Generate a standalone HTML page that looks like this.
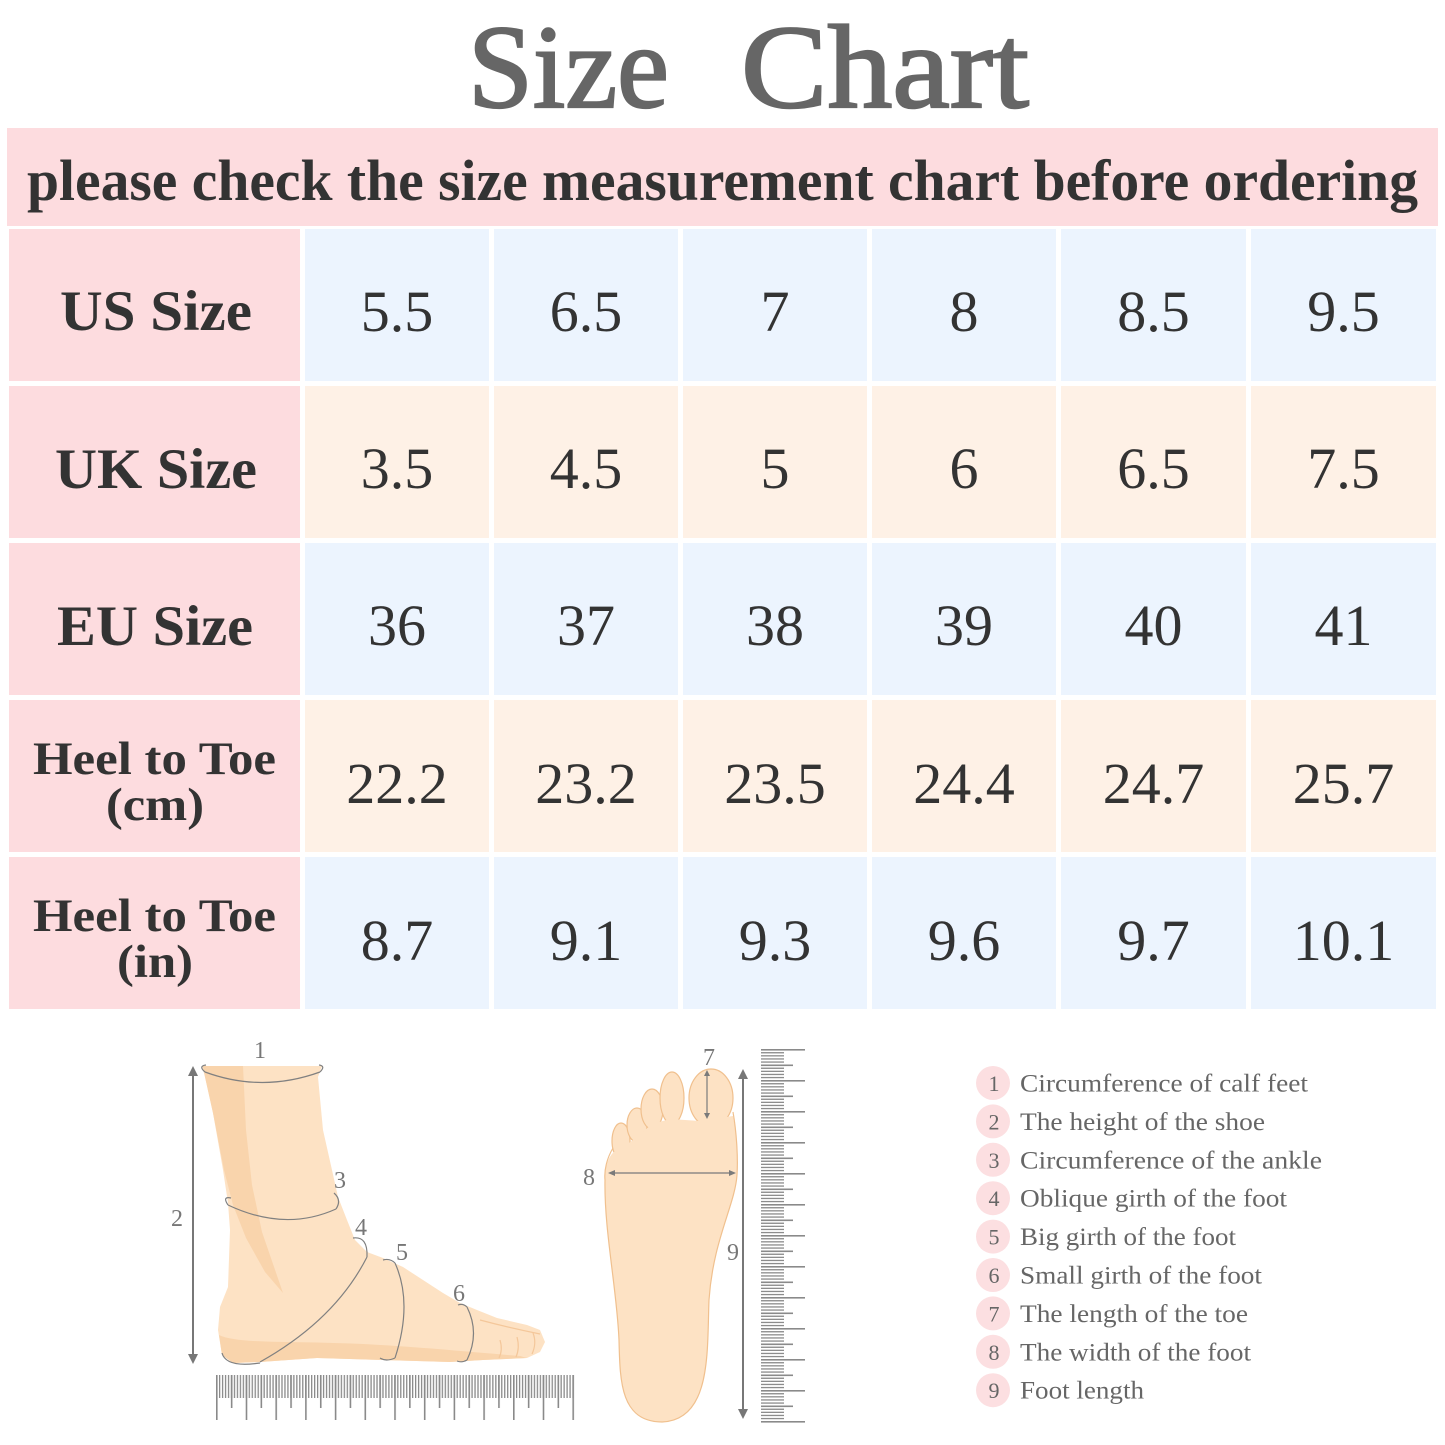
<!DOCTYPE html>
<html>
<head>
<meta charset="utf-8">
<style>
html,body{margin:0;padding:0;background:#fff;}
svg{display:block;}
</style>
</head>
<body>
<svg width="1445" height="1445" viewBox="0 0 1445 1445" xmlns="http://www.w3.org/2000/svg" font-family="'Liberation Serif', serif">
<defs>
  <pattern id="hd" x="216" y="0" width="2.97" height="10" patternUnits="userSpaceOnUse"><rect x="0" y="0" width="1.3" height="10" fill="#8a8a8a"/></pattern>
  <pattern id="hl" x="216" y="0" width="29.7" height="10" patternUnits="userSpaceOnUse"><rect x="0" y="0" width="1.6" height="10" fill="#8a8a8a"/></pattern>
  <pattern id="hm" x="230.85" y="0" width="29.7" height="10" patternUnits="userSpaceOnUse"><rect x="0" y="0" width="1.6" height="10" fill="#8a8a8a"/></pattern>
  <pattern id="vd" x="0" y="1049" width="10" height="3.1" patternUnits="userSpaceOnUse"><rect x="0" y="0" width="10" height="1.3" fill="#8a8a8a"/></pattern>
  <pattern id="vl" x="0" y="1049" width="10" height="31" patternUnits="userSpaceOnUse"><rect x="0" y="0" width="10" height="1.6" fill="#8a8a8a"/></pattern>
  <pattern id="vm" x="0" y="1064.5" width="10" height="31" patternUnits="userSpaceOnUse"><rect x="0" y="0" width="10" height="1.6" fill="#8a8a8a"/></pattern>
</defs>

<rect width="1445" height="1445" fill="#fff"/>

<!-- Title -->
<text x="468" y="107" font-size="119" fill="#666" stroke="#666" stroke-width="2.2" textLength="201" lengthAdjust="spacingAndGlyphs">Size</text>
<text x="741" y="107" font-size="119" fill="#666" stroke="#666" stroke-width="2.2" textLength="288" lengthAdjust="spacingAndGlyphs">Chart</text>

<!-- Banner -->
<rect x="7" y="128" width="1431" height="98" fill="#fddcdf"/>
<text x="27" y="200" font-size="58" font-weight="bold" fill="#333" textLength="1391" lengthAdjust="spacingAndGlyphs">please check the size measurement chart before ordering</text>

<!-- Header column -->
<g fill="#fddcdf">
  <rect x="9" y="229" width="291" height="152"/>
  <rect x="9" y="386" width="291" height="152"/>
  <rect x="9" y="543" width="291" height="152"/>
  <rect x="9" y="700" width="291" height="152"/>
  <rect x="9" y="857" width="291" height="152"/>
</g>

<g fill="#ecf4fe">
  <rect x="305" y="229" width="184" height="152"/><rect x="494" y="229" width="184" height="152"/><rect x="683" y="229" width="184" height="152"/><rect x="872" y="229" width="184" height="152"/><rect x="1061" y="229" width="185" height="152"/><rect x="1251" y="229" width="185" height="152"/>
  <rect x="305" y="543" width="184" height="152"/><rect x="494" y="543" width="184" height="152"/><rect x="683" y="543" width="184" height="152"/><rect x="872" y="543" width="184" height="152"/><rect x="1061" y="543" width="185" height="152"/><rect x="1251" y="543" width="185" height="152"/>
  <rect x="305" y="857" width="184" height="152"/><rect x="494" y="857" width="184" height="152"/><rect x="683" y="857" width="184" height="152"/><rect x="872" y="857" width="184" height="152"/><rect x="1061" y="857" width="185" height="152"/><rect x="1251" y="857" width="185" height="152"/>
</g>
<g fill="#fef1e6">
  <rect x="305" y="386" width="184" height="152"/><rect x="494" y="386" width="184" height="152"/><rect x="683" y="386" width="184" height="152"/><rect x="872" y="386" width="184" height="152"/><rect x="1061" y="386" width="185" height="152"/><rect x="1251" y="386" width="185" height="152"/>
  <rect x="305" y="700" width="184" height="152"/><rect x="494" y="700" width="184" height="152"/><rect x="683" y="700" width="184" height="152"/><rect x="872" y="700" width="184" height="152"/><rect x="1061" y="700" width="185" height="152"/><rect x="1251" y="700" width="185" height="152"/>
</g>

<!-- Header labels -->
<g fill="#333" font-weight="bold">
  <text x="60" y="330" font-size="57" textLength="192" lengthAdjust="spacingAndGlyphs">US Size</text>
  <text x="55" y="488" font-size="57" textLength="202" lengthAdjust="spacingAndGlyphs">UK Size</text>
  <text x="57" y="645" font-size="57" textLength="196" lengthAdjust="spacingAndGlyphs">EU Size</text>
  <text x="33" y="774" font-size="47" textLength="243" lengthAdjust="spacingAndGlyphs">Heel to Toe</text>
  <text x="106" y="820" font-size="47" textLength="98" lengthAdjust="spacingAndGlyphs">(cm)</text>
  <text x="33" y="931" font-size="47" textLength="243" lengthAdjust="spacingAndGlyphs">Heel to Toe</text>
  <text x="117" y="977" font-size="47" textLength="76" lengthAdjust="spacingAndGlyphs">(in)</text>
</g>

<!-- Values -->
<g fill="#333" font-size="58" text-anchor="middle">
  <text x="397" y="331">5.5</text><text x="586" y="331">6.5</text><text x="775" y="331">7</text><text x="964" y="331">8</text><text x="1153.5" y="331">8.5</text><text x="1343.5" y="331">9.5</text>
  <text x="397" y="488">3.5</text><text x="586" y="488">4.5</text><text x="775" y="488">5</text><text x="964" y="488">6</text><text x="1153.5" y="488">6.5</text><text x="1343.5" y="488">7.5</text>
  <text x="397" y="645">36</text><text x="586" y="645">37</text><text x="775" y="645">38</text><text x="964" y="645">39</text><text x="1153.5" y="645">40</text><text x="1343.5" y="645">41</text>
  <text x="397" y="803">22.2</text><text x="586" y="803">23.2</text><text x="775" y="803">23.5</text><text x="964" y="803">24.4</text><text x="1153.5" y="803">24.7</text><text x="1343.5" y="803">25.7</text>
  <text x="397" y="960">8.7</text><text x="586" y="960">9.1</text><text x="775" y="960">9.3</text><text x="964" y="960">9.6</text><text x="1153.5" y="960">9.7</text><text x="1343.5" y="960">10.1</text>
</g>

<!-- Side foot -->
<path d="M202,1066 L322,1066 L318,1077 L323,1130 L332,1170 L338,1197 L347,1220 L355,1240 L367,1252 L383,1258 L403,1267 L423,1280 L443,1293 L460,1303 L477,1310 L497,1318 L527,1325 L540,1330 L545,1342 L540,1352 L527,1358 L483,1360 L450,1362 L383,1360 L317,1358 L260,1362 L233,1363 L222,1355 L218,1330 L220,1307 L228,1287 L230,1230 L228,1203 L223,1170 L213,1113 L205,1077 Z" fill="#fde2c4"/>
<path d="M203,1066 L243,1066 L246,1130 L252,1185 L262,1232 L283,1293 L265,1272 L246,1238 L233,1205 L224,1170 L213,1113 L205,1077 Z" fill="#f9d4ac"/>
<path d="M219,1335 C240,1345 300,1340 380,1345 C430,1348 470,1352 520,1356 L527,1358 L483,1360 L450,1362 L383,1360 L317,1358 L260,1362 L233,1363 L222,1355 Z" fill="#f9d4ac"/>
<g stroke="#f4c79a" stroke-width="1.2" fill="none">
  <path d="M500,1340 Q503,1350 499,1358"/>
  <path d="M517,1337 Q520,1348 516,1357"/>
  <path d="M533,1333 Q537,1343 532,1354"/>
  <path d="M480,1320 Q510,1328 540,1334"/>
</g>
<g stroke="#808080" stroke-width="1.2" fill="none">
  <path d="M205,1072 Q262,1093 320,1072"/>
  <path d="M205,1072 Q198,1066 206,1065 M320,1072 Q326,1066 319,1065"/>
  <path d="M228,1205 Q285,1232 336,1209"/>
  <path d="M228,1205 Q222,1196 231,1198 M336,1209 Q342,1200 334,1193"/>
  <path d="M367,1257 Q335,1320 260,1362"/>
  <path d="M353,1238 Q368,1236 367,1257"/>
  <path d="M222,1353 Q226,1368 260,1363"/>
  <path d="M395,1263 Q413,1303 395,1358"/>
  <path d="M383,1260 Q390,1258 395,1263 M380,1358 Q386,1362 395,1358"/>
  <path d="M467,1307 Q480,1333 467,1360"/>
  <path d="M458,1305 Q463,1303 467,1307 M457,1361 Q462,1363 467,1360"/>
</g>
<line x1="193" y1="1074" x2="193" y2="1356" stroke="#777" stroke-width="2"/>
<polygon points="193,1066 188,1076 198,1076" fill="#777"/>
<polygon points="193,1364 188,1354 198,1354" fill="#777"/>
<g font-size="24" fill="#777" text-anchor="middle">
  <text x="260" y="1058">1</text>
  <text x="177" y="1226">2</text>
  <text x="340" y="1188">3</text>
  <text x="361" y="1235">4</text>
  <text x="402" y="1260">5</text>
  <text x="459" y="1301">6</text>
</g>

<!-- Horizontal ruler -->
<rect x="216" y="1375" width="358" height="23" fill="url(#hd)"/>
<rect x="216" y="1375" width="359" height="33" fill="url(#hm)"/>
<rect x="216" y="1375" width="359" height="45" fill="url(#hl)"/>

<!-- Sole foot -->
<g fill="#fde2c4" stroke="#f0c08e" stroke-width="1.2">
  <ellipse cx="621" cy="1141" rx="9" ry="18"/>
  <ellipse cx="637" cy="1125" rx="10" ry="17"/>
  <ellipse cx="652" cy="1109" rx="11" ry="20"/>
  <ellipse cx="672" cy="1098" rx="12" ry="26"/>
  <ellipse cx="711" cy="1098" rx="22" ry="29"/>
</g>
<path d="M605,1180 C605,1162 611,1150 621,1149 L637,1137 L652,1124 L670,1119 L700,1121 L733,1116 C737,1135 738,1160 737,1175 C735,1205 713,1240 709,1300 C707,1350 712,1420 662,1422 C620,1422 620,1380 619,1340 C617,1290 604,1230 605,1180 Z" fill="#fde2c4"/>
<path d="M613,1148 C607,1158 604,1170 605,1180 C604,1230 617,1290 619,1340 C620,1380 620,1422 662,1422 C712,1420 707,1350 709,1300 C713,1240 735,1205 737,1175 C738,1160 737,1135 733,1112" fill="none" stroke="#f0c08e" stroke-width="1.2"/>
<g stroke="#7a7a7a" stroke-width="1.2" fill="none">
  <line x1="707" y1="1073" x2="707" y2="1116"/>
  <line x1="611" y1="1173" x2="733" y2="1173"/>
</g>
<g fill="#7a7a7a">
  <polygon points="707,1070 704,1076 710,1076"/>
  <polygon points="707,1119 704,1113 710,1113"/>
  <polygon points="608,1173 615,1170 615,1176"/>
  <polygon points="736,1173 729,1170 729,1176"/>
</g>
<line x1="743" y1="1077" x2="743" y2="1411" stroke="#777" stroke-width="2"/>
<polygon points="743,1069 738,1079 748,1079" fill="#777"/>
<polygon points="743,1419 738,1409 748,1409" fill="#777"/>
<g font-size="24" fill="#777" text-anchor="middle">
  <text x="709" y="1065">7</text>
  <text x="589" y="1185">8</text>
  <text x="733" y="1260">9</text>
</g>

<!-- Vertical ruler -->
<rect x="761" y="1049" width="23" height="373" fill="url(#vd)"/>
<rect x="761" y="1049" width="32" height="373" fill="url(#vm)"/>
<rect x="761" y="1049" width="44" height="374" fill="url(#vl)"/>

<!-- Legend -->
<g fill="#fcdfe1">
  <circle cx="993" cy="1083" r="17"/>
  <circle cx="993" cy="1121.4" r="17"/>
  <circle cx="993" cy="1159.8" r="17"/>
  <circle cx="993" cy="1198.2" r="17"/>
  <circle cx="993" cy="1236.6" r="17"/>
  <circle cx="993" cy="1275" r="17"/>
  <circle cx="993" cy="1313.4" r="17"/>
  <circle cx="993" cy="1351.8" r="17"/>
  <circle cx="993" cy="1390.2" r="17"/>
</g>
<g font-size="22" fill="#666" text-anchor="middle">
  <text x="994" y="1091">1</text>
  <text x="994" y="1129.4">2</text>
  <text x="994" y="1167.8">3</text>
  <text x="994" y="1206.2">4</text>
  <text x="994" y="1244.6">5</text>
  <text x="994" y="1283">6</text>
  <text x="994" y="1321.4">7</text>
  <text x="994" y="1359.8">8</text>
  <text x="994" y="1398.2">9</text>
</g>
<g font-size="25" fill="#666">
  <text x="1020" y="1091.5" textLength="288" lengthAdjust="spacingAndGlyphs">Circumference of calf feet</text>
  <text x="1020" y="1129.9" textLength="245" lengthAdjust="spacingAndGlyphs">The height of the shoe</text>
  <text x="1020" y="1168.3" textLength="302" lengthAdjust="spacingAndGlyphs">Circumference of the ankle</text>
  <text x="1020" y="1206.7" textLength="267" lengthAdjust="spacingAndGlyphs">Oblique girth of the foot</text>
  <text x="1020" y="1245.1" textLength="216" lengthAdjust="spacingAndGlyphs">Big girth of the foot</text>
  <text x="1020" y="1283.5" textLength="242" lengthAdjust="spacingAndGlyphs">Small girth of the foot</text>
  <text x="1020" y="1321.9" textLength="228" lengthAdjust="spacingAndGlyphs">The length of the toe</text>
  <text x="1020" y="1360.3" textLength="231" lengthAdjust="spacingAndGlyphs">The width of the foot</text>
  <text x="1020" y="1398.7" textLength="124" lengthAdjust="spacingAndGlyphs">Foot length</text>
</g>
</svg>
</body>
</html>
